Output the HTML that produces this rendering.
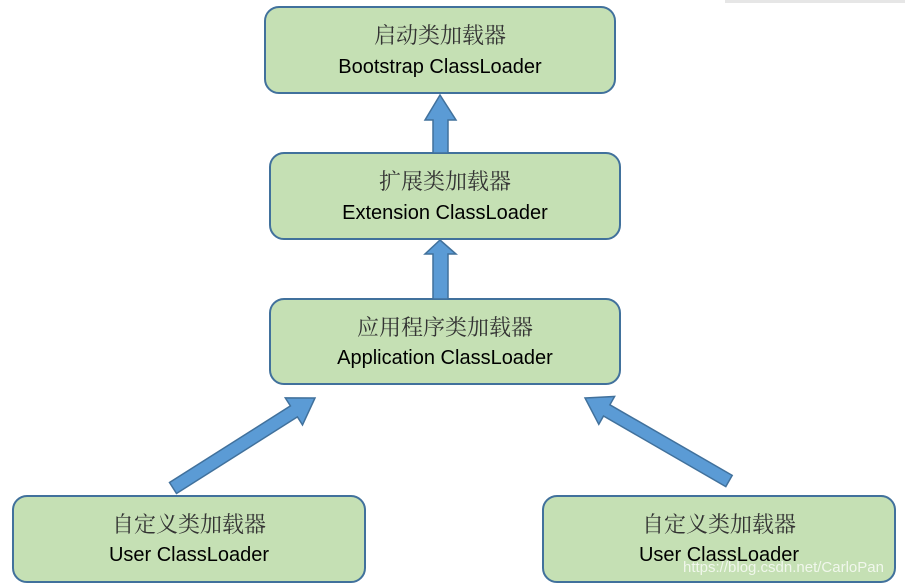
<!DOCTYPE html>
<html><head><meta charset="utf-8"><style>
html,body{margin:0;padding:0;background:#fff;}
svg{display:block}
.cn{font-family:"Liberation Serif","Noto Serif CJK SC",serif;font-size:22px;fill:#333}
.en{font-family:"Liberation Sans","Noto Sans CJK SC",sans-serif;font-size:20px;fill:#000}
</style></head><body>
<svg width="905" height="585" viewBox="0 0 905 585" xmlns="http://www.w3.org/2000/svg">
<rect x="725" y="0" width="180" height="3" fill="#e6e6e6"/>
<g fill="#c5e0b4" stroke="#41719c" stroke-width="2">
<rect x="265" y="7" width="350" height="86" rx="14"/>
<rect x="270" y="153" width="350" height="86" rx="14"/>
<rect x="270" y="299" width="350" height="85" rx="14"/>
<rect x="13" y="496" width="352" height="86" rx="14"/>
<rect x="543" y="496" width="352" height="86" rx="14"/>
</g>
<g fill="#5b9bd5" stroke="#41719c" stroke-width="1.5">
<polygon points="440,95 456,120 448,120 448,153 433,153 433,120 425,120"/>
<polygon points="440,240 456,254 448,254 448,299 433,299 433,254 425,254"/>
<polygon points="315,398 285.3,397.9 290.4,405.9 169.5,482.5 176.5,493.5 297.4,416.9 302.5,424.9"/>
<polygon points="585,398 614.6,396.5 609.9,404.8 732.2,475.4 725.8,486.6 603.5,416 598.8,424.3"/>
</g>
<g text-anchor="middle">
<text class="cn" x="440" y="43">启动类加载器</text>
<text class="en" x="440" y="73">Bootstrap ClassLoader</text>
<text class="cn" x="445" y="189">扩展类加载器</text>
<text class="en" x="445" y="219">Extension ClassLoader</text>
<text class="cn" x="445" y="335">应用程序类加载器</text>
<text class="en" x="445" y="364">Application ClassLoader</text>
<text class="cn" x="189" y="532">自定义类加载器</text>
<text class="en" x="189" y="561">User ClassLoader</text>
<text class="cn" x="719" y="532">自定义类加载器</text>
<text class="en" x="719" y="561">User ClassLoader</text>
</g>
<text x="683" y="572" font-family="Liberation Sans, sans-serif" font-size="15" fill="#ffffff" fill-opacity="0.75">https://blog.csdn.net/CarloPan</text>
</svg>
</body></html>
